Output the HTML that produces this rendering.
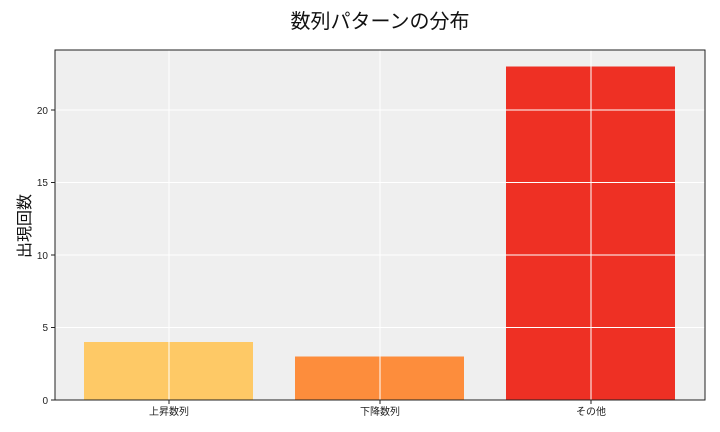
<!DOCTYPE html>
<html><head><meta charset="utf-8"><style>
html,body{margin:0;padding:0;background:#fff;}
svg{display:block;font-family:"Liberation Sans","Noto Sans CJK JP",sans-serif;}
</style></head><body>
<svg width="720" height="432" viewBox="0 0 720 432">
<rect x="55" y="50" width="650" height="350" fill="#efefef"/>
<rect x="84" y="342" width="169" height="58" fill="#fec966"/>
<rect x="295" y="356.5" width="169" height="43.5" fill="#fd8d3c"/>
<rect x="506" y="66.5" width="169" height="333.5" fill="#ee3024"/>
<g stroke="#fff" stroke-width="1">
<line x1="55" x2="705" y1="327.5" y2="327.5"/>
<line x1="55" x2="705" y1="255" y2="255"/>
<line x1="55" x2="705" y1="182.5" y2="182.5"/>
<line x1="55" x2="705" y1="110" y2="110"/>
<line x1="169" x2="169" y1="50" y2="400"/>
<line x1="380" x2="380" y1="50" y2="400"/>
<line x1="591" x2="591" y1="50" y2="400"/>
</g>
<rect x="55" y="50" width="650" height="350" fill="none" stroke="#222" stroke-width="1"/>
<g stroke="#222" stroke-width="1">
<line x1="51" x2="55" y1="400" y2="400"/><line x1="51" x2="55" y1="327.5" y2="327.5"/>
<line x1="51" x2="55" y1="255" y2="255"/><line x1="51" x2="55" y1="182.5" y2="182.5"/>
<line x1="51" x2="55" y1="110" y2="110"/>
<line x1="169" x2="169" y1="400" y2="404"/><line x1="380" x2="380" y1="400" y2="404"/><line x1="591" x2="591" y1="400" y2="404"/>
</g>
<g font-size="10" fill="#222" text-anchor="end">
<text x="48" y="404">0</text><text x="48" y="331">5</text>
<text x="48" y="259">10</text><text x="48" y="186">15</text><text x="48" y="114">20</text>
</g>
<g font-size="10" fill="#222" text-anchor="middle">
<text x="169" y="415">上昇数列</text><text x="380" y="415">下降数列</text><text x="591" y="415">その他</text>
</g>
<text x="380" y="28" font-size="20" text-anchor="middle" fill="#111">数列パターンの分布</text>
<text transform="translate(30,226) rotate(-90)" font-size="16" text-anchor="middle" fill="#111">出現回数</text>
</svg>
</body></html>
